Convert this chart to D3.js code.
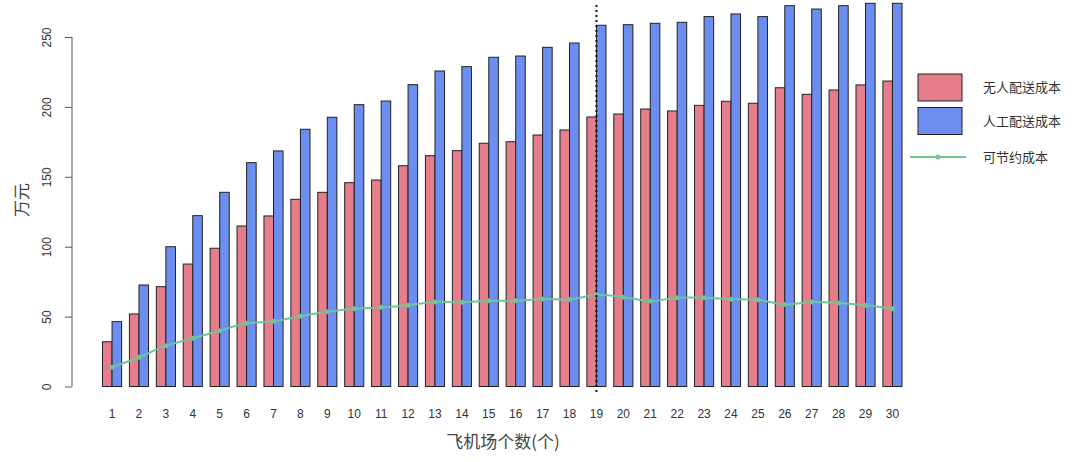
<!DOCTYPE html>
<html>
<head>
  <meta charset="utf-8">
  <title>飞机场个数与配送成本</title>
  <style>
    body { margin: 0; background: #fff; }
    text { font-family: "Liberation Sans", Arial, sans-serif; }
    .cjk { font-family: "Noto Sans CJK SC", sans-serif; }
    .axis path, .axis line { stroke: #555; }
    .axis text { fill: #333; font-size: 12px; }
  </style>
</head>
<body>
  <svg id="chart"></svg>

  <script src="https://d3js.org/d3.v7.min.js"></script>
  <script>
    // 飞机场个数
    const airports = d3.range(1, 31);
    // 无人配送成本 (万元)
    const droneCost = [32.0, 51.9, 71.4, 87.6, 98.9, 114.8, 122.0, 133.9, 138.9, 145.8,
      147.7, 157.9, 165.1, 168.7, 174.0, 175.1, 179.9, 183.5, 192.8, 194.9,
      198.5, 197.1, 201.1, 204.0, 202.6, 213.7, 209.0, 212.1, 215.7, 218.5];
    // 人工配送成本 (万元)
    const manualCost = [46.4, 72.6, 100.0, 122.2, 138.9, 160.1, 168.5, 184.0, 192.6, 201.6,
      204.2, 215.9, 225.7, 228.8, 235.5, 236.4, 242.6, 245.7, 258.4, 258.8,
      259.8, 260.5, 264.6, 266.5, 264.6, 272.4, 270.0, 272.4, 274.1, 274.1];
    // 可节约成本 (万元)
    const savedCost = [13.8, 20.9, 29.2, 34.5, 39.9, 45.2, 46.6, 50.2, 53.4, 55.6,
      56.6, 58.2, 60.5, 60.2, 61.3, 61.3, 62.6, 62.2, 65.6, 63.9,
      61.2, 63.4, 63.4, 62.5, 62.0, 58.7, 60.5, 59.8, 58.2, 55.7];
    const yTicks = [0, 50, 100, 150, 200, 250];
    const markAt = 19;

    const width = 1080, height = 462;
    const red = "#e57d8a", blue = "#6b8ef0", green = "#72c597";

    const svg = d3.select("#chart")
      .attr("width", width)
      .attr("height", height);

    const x = d3.scaleBand()
      .domain(airports)
      .range([102.5, 902])
      .paddingInner(0.29);

    const inner = d3.scaleBand()
      .domain(["drone", "manual"])
      .range([0, x.bandwidth()]);

    const y = d3.scaleLinear()
      .domain([0, 250])
      .range([386.5, 37]);

    // y 轴
    const yAxis = svg.append("g")
      .attr("class", "axis")
      .attr("transform", "translate(72,0)")
      .call(d3.axisLeft(y).tickValues(yTicks).tickSize(7).tickSizeOuter(0));
    yAxis.selectAll(".tick text")
      .attr("transform", "rotate(-90)")
      .attr("x", 0)
      .attr("y", -25)
      .attr("dy", "0.35em")
      .style("text-anchor", "middle");
    yAxis.select(".domain").attr("d", `M-7,${y(0)}H0V${y(250)}H-7`).attr("d", `M0,${y(0)}V${y(250)}`);

    svg.append("text")
      .attr("class", "cjk")
      .attr("transform", "translate(22,200) rotate(-90)")
      .attr("text-anchor", "middle")
      .attr("dy", "0.35em")
      .style("font-size", "17px")
      .style("fill", "#444")
      .text("万元");

    // 柱子
    const groups = svg.append("g")
      .selectAll("g")
      .data(airports)
      .join("g")
      .attr("transform", d => `translate(${x(d)},0)`);

    groups.append("rect")
      .attr("x", inner("drone"))
      .attr("width", inner.bandwidth())
      .attr("y", (d, i) => y(droneCost[i]))
      .attr("height", (d, i) => y(0) - y(droneCost[i]))
      .attr("fill", red)
      .attr("stroke", "#222")
      .attr("stroke-width", 1);

    groups.append("rect")
      .attr("x", inner("manual"))
      .attr("width", inner.bandwidth())
      .attr("y", (d, i) => y(manualCost[i]))
      .attr("height", (d, i) => y(0) - y(manualCost[i]))
      .attr("fill", blue)
      .attr("stroke", "#222")
      .attr("stroke-width", 1);

    // x 轴标签
    svg.append("g")
      .selectAll("text")
      .data(airports)
      .join("text")
      .attr("x", d => x(d) + x.bandwidth() / 2)
      .attr("y", 414)
      .attr("text-anchor", "middle")
      .attr("dy", "0.35em")
      .style("font-size", "12px")
      .style("fill", "#333")
      .text(d => d);

    svg.append("text")
      .attr("class", "cjk")
      .attr("x", 503)
      .attr("y", 442)
      .attr("text-anchor", "middle")
      .attr("dy", "0.35em")
      .style("font-size", "17px")
      .style("fill", "#444")
      .text("飞机场个数(个)");

    // 可节约成本曲线
    const cx = (d, i) => x(airports[i]) + x.bandwidth() / 2;
    const line = d3.line()
      .x(cx)
      .y(d => y(d))
      .curve(d3.curveCatmullRom);

    svg.append("path")
      .datum(savedCost)
      .attr("d", line)
      .attr("fill", "none")
      .attr("stroke", green)
      .attr("stroke-width", 2);

    svg.append("g")
      .selectAll("circle")
      .data(savedCost)
      .join("circle")
      .attr("cx", cx)
      .attr("cy", d => y(d))
      .attr("r", 2.5)
      .attr("fill", green);

    // 竖虚线
    const mx = x(markAt) + x.bandwidth() / 2;
    svg.append("line")
      .attr("x1", mx).attr("x2", mx)
      .attr("y1", 5).attr("y2", 393)
      .attr("stroke", "#111")
      .attr("stroke-width", 2)
      .attr("stroke-dasharray", "2,3");

    // 图例
    const legend = svg.append("g");
    const boxes = [
      { label: "无人配送成本", color: red, y: 74 },
      { label: "人工配送成本", color: blue, y: 107.5 }
    ];
    boxes.forEach(b => {
      legend.append("rect")
        .attr("x", 918).attr("y", b.y)
        .attr("width", 44).attr("height", 27)
        .attr("fill", b.color)
        .attr("stroke", "#222");
      legend.append("text")
        .attr("class", "cjk")
        .attr("x", 983).attr("y", b.y + 13.5)
        .attr("dy", "0.35em")
        .style("font-size", "13px")
        .style("fill", "#333")
        .text(b.label);
    });
    legend.append("line")
      .attr("x1", 910).attr("x2", 966)
      .attr("y1", 157).attr("y2", 157)
      .attr("stroke", green).attr("stroke-width", 2);
    legend.append("circle")
      .attr("cx", 938).attr("cy", 157).attr("r", 2.5)
      .attr("fill", green);
    legend.append("text")
      .attr("class", "cjk")
      .attr("x", 983).attr("y", 157)
      .attr("dy", "0.35em")
      .style("font-size", "13px")
      .style("fill", "#333")
      .text("可节约成本");
  </script>
</body>
</html>
